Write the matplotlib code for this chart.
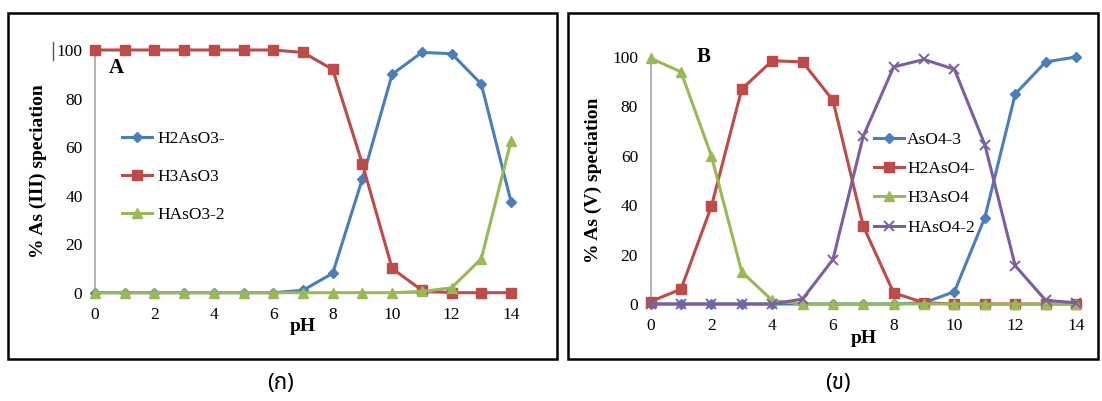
import matplotlib
matplotlib.use("Agg")
import matplotlib.pyplot as plt
from matplotlib.patches import Rectangle
from matplotlib.lines import Line2D

ph = list(range(15))

# panel A, As(III)
h2aso3 = [0, 0, 0, 0, 0, 0, 0, 1, 8, 47, 90, 99, 98.5, 86, 37.5]
h3aso3 = [100, 100, 100, 100, 100, 100, 100, 99, 92, 53, 10, 1, 0, 0, 0]
haso3 = [0, 0, 0, 0, 0, 0, 0, 0, 0, 0, 0, 0.5, 2, 14, 62.5]

# panel B, As(V)
aso4 = [0, 0, 0, 0, 0, 0, 0, 0, 0, 0.5, 5, 35, 85, 98, 100]
h2aso4 = [1, 6, 39.5, 87, 98.5, 98, 82.5, 31.5, 4.5, 0.5, 0, 0, 0, 0, 0]
h3aso4 = [99.5, 94, 60, 13, 1.5, 0, 0, 0, 0, 0, 0, 0, 0, 0, 0]
haso4 = [0, 0, 0, 0, 0, 2, 18, 68, 96, 99, 95, 64.5, 15.5, 1.5, 0.5]

blue, red, green, purple = "#4a7ebb", "#be4b48", "#98b954", "#7d5fa0"
serif = "Liberation Serif"
W, H = 1102, 401

fig = plt.figure(figsize=(W / 100, H / 100), dpi=100)


def px(x0, y0, x1, y1):
    # pixel box -> figure fraction [left, bottom, width, height]
    return [x0 / W, 1 - y1 / H, (x1 - x0) / W, (y1 - y0) / H]


def style_axes(ax, ylabel):
    ax.set_xlim(0, 14)
    ax.set_ylim(0, 100)
    ax.set_xticks(range(0, 15, 2))
    ax.set_yticks(range(0, 101, 20))
    for s in ["top", "right"]:
        ax.spines[s].set_visible(False)
    for s in ["left", "bottom"]:
        ax.spines[s].set_color("#a6a6a6")
        ax.spines[s].set_linewidth(1.2)
    ax.tick_params(length=0, labelsize=12.5, pad=9)
    ax.tick_params(axis="x", pad=10)
    for t in ax.get_xticklabels() + ax.get_yticklabels():
        t.set_fontfamily(serif)
    ax.set_xlabel("pH", fontfamily=serif, fontweight="bold", fontsize=14, labelpad=-3)
    ax.set_ylabel(ylabel, fontfamily=serif, fontweight="bold", fontsize=14, labelpad=7)
    ax.patch.set_alpha(0)


def draw(ax, y, color, marker, ms, label, mew=1):
    ax.plot(ph, y, color=color, lw=2.2, marker=marker, ms=ms, mew=mew,
            label=label, clip_on=False, zorder=3)


# frames
fig.patches.append(Rectangle((8 / W, 1 - 359 / H), 549 / W, 346 / H, transform=fig.transFigure,
                             fill=False, ec="black", lw=1.8))
fig.patches.append(Rectangle((568 / W, 1 - 359 / H), 530 / W, 346 / H, transform=fig.transFigure,
                             fill=False, ec="black", lw=1.8))

# panel A
axA = fig.add_axes(px(95, 50, 511, 292.7))
draw(axA, h2aso3, blue, "D", 5, "H2AsO3-")
draw(axA, h3aso3, red, "s", 6.8, "H3AsO3")
draw(axA, haso3, green, "^", 6.8, "HAsO3-2")
style_axes(axA, "% As (III) speciation")
axA.text(0.45, 92.5, "A", fontfamily=serif, fontweight="bold", fontsize=15, va="center")
axA.legend(loc="upper left", bbox_to_anchor=(122 / W, 1 - 131 / H), bbox_transform=fig.transFigure,
           frameon=False, prop={"family": serif, "size": 12.5}, handlelength=1.75,
           handletextpad=0.3, labelspacing=1.25, borderpad=0, borderaxespad=0)
fig.add_artist(Line2D([53 / W, 53 / W], [1 - 60 / H, 1 - 42 / H], color="#555555", lw=1))

# panel B
axB = fig.add_axes(px(650.6, 57, 1076, 304))
draw(axB, aso4, blue, "D", 5, "AsO4-3")
draw(axB, h2aso4, red, "s", 6.8, "H2AsO4-")
draw(axB, h3aso4, green, "^", 6.8, "H3AsO4")
draw(axB, haso4, purple, "x", 7, "HAsO4-2", mew=1.4)
style_axes(axB, "% As (V) speciation")
axB.text(1.5, 100, "B", fontfamily=serif, fontweight="bold", fontsize=15, va="center")
axB.legend(loc="upper left", bbox_to_anchor=(874 / W, 1 - 132 / H), bbox_transform=fig.transFigure,
           frameon=False, prop={"family": serif, "size": 12.5}, handlelength=1.75,
           handletextpad=0.15, labelspacing=0.75, borderpad=0, borderaxespad=0)

# captions
cap = ["Noto Sans Thai", "Loma", "Garuda", "DejaVu Sans"]
fig.text(280 / W, 1 - 384 / H, "(ก)", ha="center", va="center", fontsize=16, family=cap)
fig.text(838 / W, 1 - 384 / H, "(ข)", ha="center", va="center", fontsize=16, family=cap)

fig.savefig("out.png", dpi=100)
